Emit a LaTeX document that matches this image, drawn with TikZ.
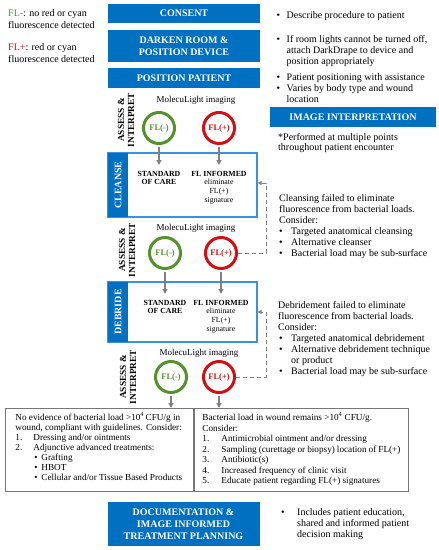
\documentclass[tikz,border=0pt]{standalone}
\usepackage{fontspec}
\setmainfont{Liberation Serif}
\usetikzlibrary{arrows.meta}
\definecolor{flblue}{RGB}{0,112,192}
\definecolor{frameblue}{RGB}{60,145,220}
\definecolor{flgreen}{RGB}{84,146,44}
\definecolor{flred}{RGB}{208,16,22}
\definecolor{flgray}{RGB}{128,128,128}
\definecolor{boxgray}{RGB}{118,118,118}
\begin{document}
\begin{tikzpicture}[x=1pt, y=-1pt, node distance=60pt,
    bluebox/.style={fill=flblue, text=white, align=center, minimum width=152pt, inner sep=0pt, font=\fontsize{10}{12}\selectfont\bfseries},
    flneg/.style={circle, draw=flgreen, text=flgreen, line width=3pt, minimum size=31pt, inner sep=0pt, font=\fontsize{8.5}{9}\selectfont\bfseries},
    flpos/.style={flneg, draw=flred, text=flred},
    assess/.style={rotate=90, align=center, inner sep=0pt, font=\fontsize{9.3}{10}\selectfont\bfseries},
    imaging/.style={inner sep=0pt, font=\fontsize{9}{10}\selectfont},
    stepframe/.style={draw=frameblue, line width=1.2pt, minimum width=149pt},
    steptag/.style={fill=flblue, text=white, rotate=90, minimum height=20pt, inner sep=0pt, font=\fontsize{10}{12}\selectfont\bfseries},
    care/.style={anchor=north, align=center, inner xsep=0pt, inner ysep=6pt, font=\fontsize{7.8}{8.6}\selectfont\bfseries},
    note/.style={anchor=base west, align=left, inner sep=0pt, font=\fontsize{10}{11}\selectfont},
    outcome/.style={draw=boxgray, line width=0.9pt, anchor=north west, inner ysep=4pt, font=\fontsize{9.2}{10}\selectfont},
    arr/.style={draw=flgray, line width=1.3pt, shorten <=1.5pt, -{Triangle[length=5pt, width=5pt]}},
    back/.style={draw=flgray, line width=0.9pt, dash pattern=on 4pt off 3pt, -{Triangle[length=4pt, width=4pt]}}]
  \useasboundingbox (0,0) rectangle (439,550);

  \node[note, font=\fontsize{10}{12}\selectfont] (legneg) at (8,28) {\textcolor{flgreen}{FL-}: no red or cyan\\fluorescence detected};
  \node[note, font=\fontsize{10}{12}\selectfont] (legpos) at (8,62) {\textcolor{flred}{FL+}: red or cyan\\fluorescence detected};

  \node[bluebox, minimum height=19pt] (consent) at (184,13.5) {CONSENT};
  \node[bluebox, minimum height=32pt] (darken) at (184,46) {DARKEN ROOM \&\\POSITION DEVICE};
  \node[bluebox, minimum height=20pt] (patient) at (184,78) {POSITION PATIENT};
  \node[bluebox, minimum width=166pt, minimum height=20pt] (interp) at (353,117) {IMAGE INTERPRETATION};
  \node[bluebox, minimum height=44pt] (docu) at (183.5,524) {DOCUMENTATION \&\\IMAGE INFORMED\\TREATMENT PLANNING};

  \node[note] (describe) at (276.5,18) {\makebox[10pt][l]{\textbullet}Describe procedure to patient};
  \node[note] (lights) at (276.5,64) {\makebox[10pt][l]{\textbullet}If room lights cannot be turned off,\\\hspace*{10pt}attach DarkDrape to device and\\\hspace*{10pt}position appropriately};
  \node[note] (posnote) at (276.5,102) {\makebox[10pt][l]{\textbullet}Patient positioning with assistance\\\makebox[10pt][l]{\textbullet}Varies by body type and wound\\\hspace*{10pt}location};
  \node[note, font=\fontsize{10}{10.5}\selectfont] (multi) at (278,150.5) {*Performed at multiple points\\throughout patient encounter};

  \node[assess] (assess1) at (126,120) {ASSESS \&\\INTERPRET};
  \node[imaging] (img1) at (196,100) {MolecuLight imaging};
  \node[flneg] (neg1) at (159,128) {FL(-)};
  \node[flpos, right of=neg1] (pos1) {FL(+)};

  \node[stepframe, minimum height=64pt] (cleanse) at (182.5,185) {};
  \node[steptag, minimum width=64pt] (cleansetag) at (118,185) {CLEANSE};
  \node[care] (care1) at (159,165) {STANDARD\\OF CARE};
  \node[care] (inf1) at (219,165) {FL INFORMED\\{\mdseries eliminate}\\{\mdseries FL(+)}\\{\mdseries signature}};
  \draw[arr] (neg1) -- (care1);
  \draw[arr] (pos1) -- (inf1);

  \node[assess] (assess2) at (127,250) {ASSESS \&\\INTERPRET};
  \node[imaging] (img2) at (196,228) {MolecuLight imaging};
  \node[flneg] (neg2) at (165,253) {FL(-)};
  \node[flpos, node distance=56pt, right of=neg2] (pos2) {FL(+)};
  \node[note] (cleansefail) at (279,256) {Cleansing failed to eliminate\\fluorescence from bacterial loads.\\Consider:\\\makebox[12pt][l]{\textbullet}Targeted anatomical cleansing\\\makebox[12pt][l]{\textbullet}Alternative cleanser\\\makebox[12pt][l]{\textbullet}Bacterial load may be sub-surface};
  \coordinate (turn1) at (266,183);
  \draw[back] (pos2) -- (pos2 -| turn1) -- (turn1) -- (cleanse.east |- turn1);

  \node[stepframe, minimum height=60pt] (debride) at (182.5,312) {};
  \node[steptag, minimum width=60pt] (debridetag) at (118,312) {DEBRIDE};
  \node[care] (care2) at (165,294) {STANDARD\\OF CARE};
  \node[care] (inf2) at (221,294) {FL INFORMED\\{\mdseries eliminate}\\{\mdseries FL(+)}\\{\mdseries signature}};
  \draw[arr] (neg2) -- (care2);
  \draw[arr] (pos2) -- (inf2);

  \node[assess] (assess3) at (128,377) {ASSESS \&\\INTERPRET};
  \node[imaging] (img3) at (199,353) {MolecuLight imaging};
  \node[flneg] (neg3) at (171,377) {FL(-)};
  \node[flpos, node distance=48pt, right of=neg3] (pos3) {FL(+)};
  \node[note] (debridefail) at (278,374) {Debridement failed to eliminate\\fluorescence from bacterial loads.\\Consider:\\\hspace*{1pt}\makebox[12pt][l]{\textbullet}Targeted anatomical debridement\\\hspace*{1pt}\makebox[12pt][l]{\textbullet}Alternative debridement technique\\\hspace*{13pt}or product\\\hspace*{1pt}\makebox[12pt][l]{\textbullet}Bacterial load may be sub-surface};
  \coordinate (turn2) at (266,312);
  \draw[back] (pos3) -- (pos3 -| turn2) -- (turn2) -- (debride.east |- turn2);

  \node[outcome, inner xsep=10pt] (nobac) at (5,408) {\parbox[c][75pt][t]{168pt}{\raggedright
    No evidence of bacterial load >10\textsuperscript{4}\,CFU/g in\\
    wound, compliant with guidelines. Consider:\\
    \makebox[18pt][l]{1.}Dressing and/or ointments\\
    \makebox[18pt][l]{2.}Adjunctive advanced treatments:\\
    \hspace*{19pt}\makebox[7pt][l]{\textbullet}Grafting\\
    \hspace*{19pt}\makebox[7pt][l]{\textbullet}HBOT\\
    \hspace*{19pt}\makebox[7pt][l]{\textbullet}Cellular and/or Tissue Based Products}};
  \node[outcome, inner xsep=8pt, font=\fontsize{9.2}{10.5}\selectfont] (highbac) at (194,408) {\parbox[c][75pt][t]{198pt}{\raggedright
    Bacterial load in wound remains >10\textsuperscript{4} CFU/g.\\
    Consider:\\
    \makebox[19pt][l]{1.}Antimicrobial ointment and/or dressing\\
    \makebox[19pt][l]{2.}Sampling (curettage or biopsy) location of FL(+)\\
    \makebox[19pt][l]{3.}Antibiotic(s)\\
    \makebox[19pt][l]{4.}Increased frequency of clinic visit\\
    \makebox[19pt][l]{5.}Educate patient regarding FL(+) signatures}};
  \draw[arr] (neg3) -- (neg3 |- nobac.north);
  \draw[arr] (pos3) -- (pos3 |- highbac.north);

  \node[note] (includes) at (281,537) {\makebox[16pt][l]{\textbullet}Includes patient education,\\\hspace*{16pt}shared and informed patient\\\hspace*{16pt}decision making};
\end{tikzpicture}
\end{document}
